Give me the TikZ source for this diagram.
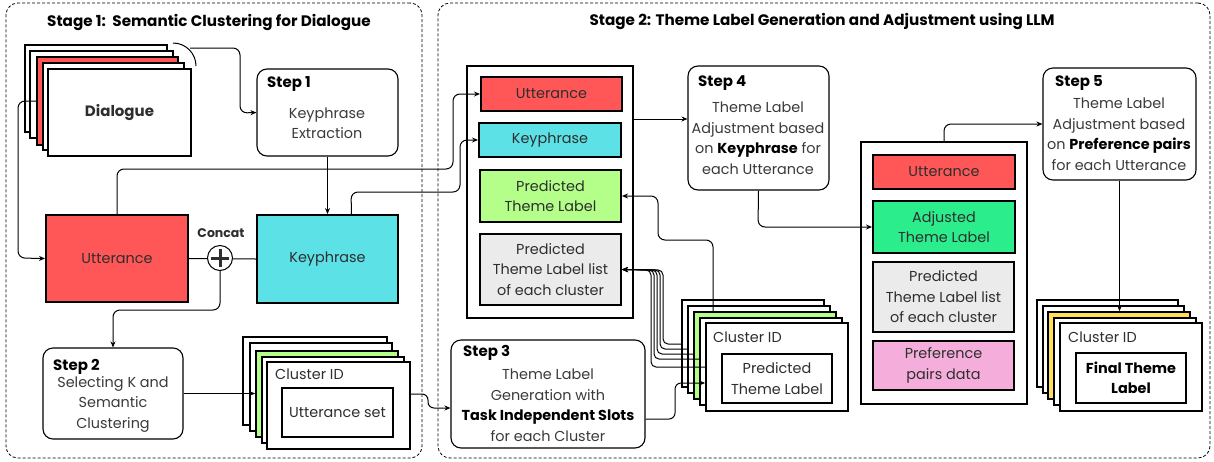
\documentclass[tikz,border=0pt]{standalone}
\usepackage{fontspec}
\setmainfont{Poppins}
\usetikzlibrary{arrows.meta,calc}

\definecolor{uttred}{HTML}{FF5757}
\definecolor{keycyan}{HTML}{5CE1E6}
\definecolor{predgreen}{HTML}{B4FF8A}
\definecolor{adjgreen}{HTML}{2BED8C}
\definecolor{listgray}{HTML}{EBEBEB}
\definecolor{prefpink}{HTML}{F5AEDB}
\definecolor{finyellow}{HTML}{FFDE59}
\definecolor{txt}{HTML}{2E2E2E}
\definecolor{bodytxt}{HTML}{3A3A3A}

% \card{name}{x1}{y1}{x2}{y2}{style}{text}: a box given by its corners (pixel units, y downwards)
\newcommand\card[7]{\node[#6, minimum width={(#4)-(#2)}, minimum height={(#5)-(#3)}, inner sep=0pt]
  (#1) at ({((#2)+(#4))/2},{((#3)+(#5))/2}) {#7};}

\tikzset{
  body/.style={font=\fontsize{14.4}{20.5}\selectfont},
  card/.style={draw, line width=1.8pt, fill=white},
  slot/.style={draw, line width=2pt, text=txt, align=center, body},
  container/.style={draw, line width=1.6pt, fill=white},
  stepbox/.style={draw, line width=1.1pt, rounded corners=10pt, fill=white},
  stephead/.style={anchor=west, inner sep=0pt, font=\fontsize{15}{18}\selectfont\bfseries},
  stepbody/.style={align=center, inner sep=0pt, text=bodytxt, body},
  arr/.style={-{Stealth[length=6pt,width=5pt]}, line width=1pt, rounded corners=7pt},
  plain/.style={line width=1pt, rounded corners=7pt},
  stage/.style={draw, dash pattern=on 3pt off 2pt, line width=0.8pt, rounded corners=12pt},
  stagetitle/.style={font=\fontsize{15.2}{18}\selectfont\bfseries},
  idlabel/.style={anchor=west, inner sep=0pt, text=txt, body},
}

\begin{document}
\begin{tikzpicture}[x=1pt, y=-1pt]
\useasboundingbox (0,0) rectangle (1214,461);

% ---------- stage frames ----------
\card{stageA}{6}{3}{422}{458}{stage}{}
\card{stageB}{438}{3}{1210}{458}{stage}{}
\node[stagetitle] (titleA) at (209,22) {Stage 1:\ \ Semantic Clustering for Dialogue};
\node[stagetitle] (titleB) at (822,21) {Stage 2: Theme Label Generation and Adjustment using LLM};

% ---------- Stage 1 ----------
% dialogue stack
\card{d1}{25}{45}{167}{132}{card}{}
\card{d2}{30}{51}{173}{138}{card}{}
\card{d3}{37}{57}{178}{145}{card,fill=uttred}{}
\card{d4}{43}{63}{184}{150}{card}{}
\card{d5}{48}{69}{191}{156}{card,text=txt,font=\fontsize{15}{18}\selectfont\bfseries}{Dialogue}
\draw[line width=1pt] (173,43) arc[start angle=-90, end angle=0, radius=23];

% step 1
\card{step1}{257}{69}{398}{156}{stepbox}{}
\node[stephead] (s1h) at (267,84) {Step 1};
\node[stepbody] (s1b) at (327,123) {Keyphrase\\Extraction};

% utterance / keyphrase
\card{utt1}{46}{215}{188}{302}{slot,fill=uttred}{Utterance}
\card{key1}{257}{215}{398}{303}{slot,fill=keycyan}{Keyphrase}
\draw[plain] (utt1.east) -- (key1.west);
\node[circle, draw, line width=1pt, fill=white, minimum size=25pt, inner sep=0pt] (cat) at (220,258) {};
\draw[line width=3pt, txt] ($(cat.center)+(-9,0)$) -- ($(cat.center)+(9,0)$);
\draw[line width=3pt, txt] ($(cat.center)+(0,-9)$) -- ($(cat.center)+(0,9)$);
\node[font=\fontsize{12.5}{14}\selectfont\bfseries, text=txt] (catlabel) at (221,233) {Concat};

% step 2
\card{step2}{43}{348}{183}{439}{stepbox}{}
\node[stephead] (s2h) at (53,367) {Step 2};
\node[stepbody] (s2b) at (113,404) {Selecting K and\\Semantic\\Clustering};

% cluster stack (utterance sets)
\card{c1a}{243}{337}{387}{425}{card}{}
\card{c1b}{250}{343}{392}{431}{card}{}
\card{c1c}{256}{351}{398}{437}{card,fill=predgreen}{}
\card{c1d}{262}{357}{404}{443}{card}{}
\card{c1e}{267}{362}{410}{449}{card}{}
\node[idlabel] (c1id) at (275,374) {Cluster ID};
\card{c1in}{282}{388}{393}{437}{slot,fill=white}{Utterance set}

% ---------- Stage 2 ----------
% container with utterance information
\card{cont1}{467}{66}{633}{318}{container}{}
\card{utt2}{481}{77}{622}{111}{slot,fill=uttred}{Utterance}
\card{key2}{479}{123}{621}{157}{slot,fill=keycyan}{Keyphrase}
\card{pred}{480}{170}{621}{222}{slot,fill=predgreen}{Predicted\\Theme Label}
\card{list1}{480}{234}{621}{305}{slot,fill=listgray}{Predicted\\Theme Label list\\of each cluster}

% step 3
\card{step3}{451}{340}{645}{448}{stepbox}{}
\node[stephead] (s3h) at (463,353) {Step 3};
\node[stepbody] (s3b) at (548,405) {Theme Label\\Generation with\\\textbf{\color{black}Task Independent Slots}\\for each Cluster};

% cluster stack (predicted labels)
\card{c2a}{682}{300}{824}{387}{card}{}
\card{c2b}{688}{306}{830}{393}{card}{}
\card{c2c}{694}{312}{836}{399}{card,fill=predgreen}{}
\card{c2d}{700}{318}{842}{405}{card}{}
\card{c2e}{706}{323}{848}{411}{card}{}
\node[idlabel] (c2id) at (713,337) {Cluster ID};
\card{c2in}{722}{354}{832}{403}{slot,fill=white}{Predicted\\Theme Label}

% step 4
\card{step4}{688}{66}{829}{190}{stepbox}{}
\node[stephead] (s4h) at (698,83) {Step 4};
\node[stepbody] (s4b) at (758,138) {Theme Label\\Adjustment based\\on \textbf{\color{black}Keyphrase} for\\each Utterance};

% container with adjusted labels
\card{cont2}{861}{142}{1027}{404}{container}{}
\card{utt3}{873}{155}{1015}{189}{slot,fill=uttred}{Utterance}
\card{adj}{873}{201}{1015}{253}{slot,fill=adjgreen}{Adjusted\\Theme Label}
\card{list2}{873}{262}{1014}{332}{slot,fill=listgray}{Predicted\\Theme Label list\\of each cluster}
\card{pref}{873}{341}{1014}{390}{slot,fill=prefpink}{Preference\\pairs data}

% step 5
\card{step5}{1043}{68}{1196}{180}{stepbox}{}
\node[stephead] (s5h) at (1055,83) {Step 5};
\node[stepbody] (s5b) at (1119,134) {Theme Label\\Adjustment based\\on \textbf{\color{black}Preference pairs}\\for each Utterance};

% final stack
\card{f1}{1037}{300}{1178}{387}{card}{}
\card{f2}{1043}{306}{1184}{393}{card}{}
\card{f3}{1048}{312}{1190}{399}{card,fill=finyellow}{}
\card{f4}{1054}{318}{1196}{405}{card}{}
\card{f5}{1060}{323}{1202}{411}{card}{}
\node[idlabel] (f5id) at (1068,337) {Cluster ID};
\card{fin}{1076}{353}{1186}{403}{slot,fill=white,text=black,font=\fontsize{14.4}{20.5}\selectfont\bfseries}{Final Theme\\Label}

% ---------- connectors ----------
\coordinate (dout) at (190,48);
\draw[arr] (dout) -- (240,48) -- (240,113) -- (step1.west);
\coordinate (dleft) at (37,101);
\draw[arr] (dleft) -- (18,101) -- (18,258) -- (utt1.west);
\draw[arr] (step1.south) -- (key1.north);
\draw[arr] (utt1.north) -- (117,169) -- (453,169) -- (453,94) -- (utt2.west);
\draw[arr] ([xshift=24pt]key1.north) -- (351,192) -- (460,192) -- (460,140) -- (key2.west);
\draw[arr] (cat.south) -- (220,310) -- (113,310) -- (step2.north);
\draw[arr, rounded corners=0pt] (step2.east) -- (step2.east -| c1c.west);
\coordinate (c1out) at (410,394);
\draw[arr, rounded corners=6pt] (c1out) -- (428,394) -- (428,408) -- ([yshift=-14pt]step3.west);

\draw[arr, rounded corners=0pt] (cont1.east |- 0,119) -- (step4.west |- 0,119);
\draw[arr] (step4.south) -- (758,227) -- (adj.west);
\draw[arr] (cont2.north) -- (944,124) -- (step5.west |- 0,124);
\draw[arr] (step5.south) -- (step5.south |- f3.north);

% predicted labels back into the first container
\draw[arr] (c2c.north -| 713,0) -- (713,240) -- (658,240) -- (658,196) -- (pred.east);
\draw[arr, rounded corners=5pt] (c2a.west |- 0,344) -- (663,344) -- (663,270) -- (list1.east);
\draw[arr, rounded corners=5pt] (c2b.west |- 0,349) -- (660,349) -- (660,270) -- (list1.east);
\draw[arr, rounded corners=5pt] (c2c.west |- 0,354) -- (657,354) -- (657,270) -- (list1.east);
\draw[arr, rounded corners=5pt] (c2d.west |- 0,359) -- (654,359) -- (654,270) -- (list1.east);
\draw[arr, rounded corners=5pt] (c2e.west |- 0,367) -- (651,367) -- (651,270) -- (list1.east);
\draw[arr, rounded corners=6pt] ([yshift=-25pt]step3.east) -- (675,419) -- (675,383) -- (c2e.west |- 0,383);
\end{tikzpicture}
\end{document}
